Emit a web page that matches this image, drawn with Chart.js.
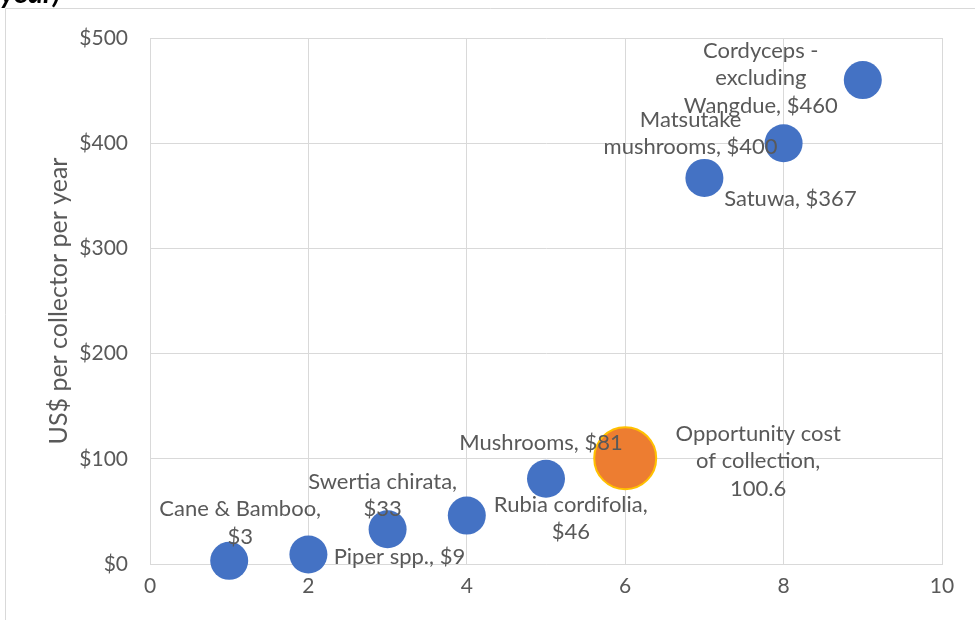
<!DOCTYPE html>
<html>
<head>
<meta charset="utf-8">
<style>
  html, body { margin: 0; padding: 0; background: #fff; overflow: hidden; }
  #wrap { width: 975px; height: 620px; }
</style>
<script src="https://cdn.jsdelivr.net/npm/chart.js@4/dist/chart.umd.min.js"></script>
</head>
<body>
<div id="wrap"><canvas id="chart" width="975" height="620"></canvas></div>
<script>
// products collected, x = rank, y = US$ per collector per year
const productNames = [
  ['Cane & Bamboo,', '$3'],
  ['Piper spp., $9'],
  ['Swertia chirata,', '$33'],
  ['Rubia cordifolia,', '$46'],
  ['Mushrooms, $81'],
  ['Satuwa, $367'],
  ['Matsutake', 'mushrooms, $400'],
  ['Cordyceps -', 'excluding', 'Wangdue, $460']
];
const productX = [1, 2, 3, 4, 5, 7, 8, 9];
const productY = [3, 9, 33, 46, 81, 367, 400, 460];

const oppName = [['Opportunity cost', 'of collection,', '100.6']];
const oppX = [6];
const oppY = [100.6];

// label offsets from the point centre (px)
const productLabelOffsets = [
  [11, -38], [91, 2], [-5, -34], [104, 3], [-5, -36], [86, 21], [-93, -10], [-102, -2]
];
const oppLabelOffsets = [[133, 3]];

const textGray = '#595959';
const gridGray = '#d9d9d9';
const fontFam = 'Lato, "Open Sans", sans-serif';

// data labels, drawn next to each point
const pointLabels = {
  id: 'pointLabels',
  afterDatasetsDraw(chart) {
    const { ctx } = chart;
    ctx.save();
    ctx.font = '22px ' + fontFam;
    ctx.fillStyle = textGray;
    ctx.textAlign = 'center';
    ctx.textBaseline = 'middle';
    const lineH = 27.5;
    chart.data.datasets.forEach((ds, di) => {
      const meta = chart.getDatasetMeta(di);
      meta.data.forEach((pt, i) => {
        const lines = ds.labelText[i];
        const [dx, dy] = ds.labelOffsets[i];
        const top = pt.y + dy - (lines.length - 1) * lineH / 2;
        lines.forEach((l, k) => ctx.fillText(l, pt.x + dx, top + k * lineH));
      });
    });
    ctx.restore();
  }
};

// outer chart frame + cut-off title
const frame = {
  id: 'frame',
  beforeDraw(chart) {
    const { ctx } = chart;
    ctx.save();
    ctx.strokeStyle = gridGray;
    ctx.lineWidth = 1;
    ctx.beginPath();
    ctx.moveTo(5.5, 620);
    ctx.lineTo(5.5, 8.5);
    ctx.lineTo(975, 8.5);
    ctx.stroke();
    ctx.fillStyle = '#000';
    ctx.font = 'italic bold 29px ' + fontFam;
    ctx.textBaseline = 'alphabetic';
    ctx.fillText('year)', 0, 3);
    ctx.restore();
  }
};

new Chart(document.getElementById('chart'), {
  type: 'scatter',
  data: {
    datasets: [
      {
        label: 'Products',
        data: productX.map((x, i) => ({ x: x, y: productY[i] })),
        labelText: productNames,
        labelOffsets: productLabelOffsets,
        backgroundColor: '#4472C4',
        borderColor: '#4472C4',
        borderWidth: 0,
        pointRadius: 19,
        pointHoverRadius: 19,
        clip: false
      },
      {
        label: 'Opportunity cost',
        data: oppX.map((x, i) => ({ x: x, y: oppY[i] })),
        labelText: oppName,
        labelOffsets: oppLabelOffsets,
        backgroundColor: '#ED7D31',
        borderColor: '#FFC000',
        borderWidth: 2,
        pointRadius: 31,
        pointHoverRadius: 31,
        clip: false
      }
    ]
  },
  options: {
    responsive: false,
    animation: false,
    events: [],
    layout: { padding: { top: 38, right: 32, left: 0, bottom: 0 } },
    plugins: {
      legend: { display: false },
      tooltip: { enabled: false }
    },
    scales: {
      x: {
        type: 'linear',
        min: 0,
        max: 10,
        afterFit: s => { s.height = 56; },
        border: { color: gridGray, width: 1 },
        grid: { color: gridGray, drawTicks: false },
        ticks: {
          stepSize: 2,
          padding: 10,
          color: textGray,
          font: { family: fontFam, size: 21 }
        }
      },
      y: {
        min: 0,
        max: 500,
        afterFit: s => { s.width = 150; },
        border: { color: gridGray, width: 1 },
        grid: { color: gridGray, drawTicks: false },
        ticks: {
          stepSize: 100,
          padding: 22,
          color: textGray,
          font: { family: fontFam, size: 21 },
          callback: v => '$' + v
        },
        title: {
          display: true,
          text: 'US$ per collector per year',
          color: textGray,
          padding: { top: 44, bottom: 0 },
          font: { family: fontFam, size: 25 }
        }
      }
    }
  },
  plugins: [frame, pointLabels]
});
</script>
</body>
</html>
